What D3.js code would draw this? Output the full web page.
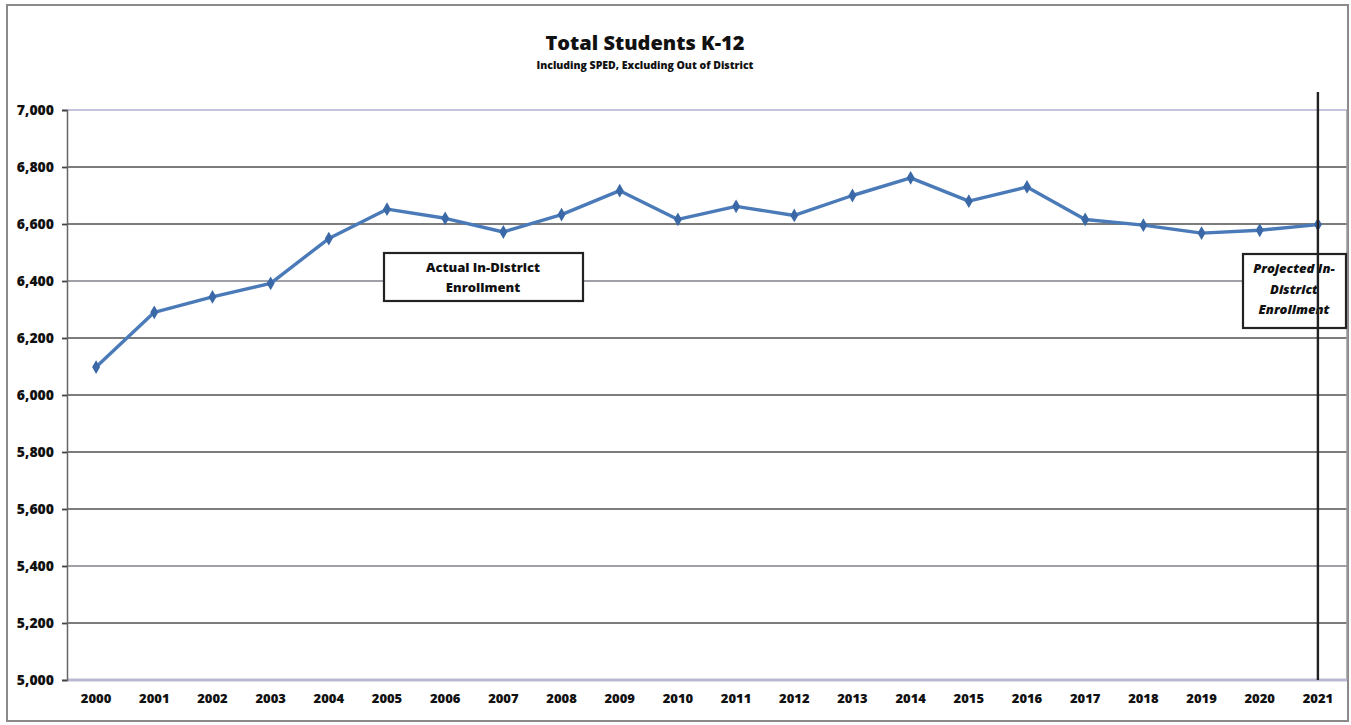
<!DOCTYPE html>
<html>
<head>
<meta charset="utf-8">
<script src="https://cdn.jsdelivr.net/npm/d3@7"></script>
<style>
  body { margin: 0; background: #fff; }
  text { font-family: "Open Sans", "DejaVu Sans", sans-serif; font-weight: 800; fill: #111; }
</style>
</head>
<body>
<div id="chart"></div>
<script>
// values
var years = ["2000","2001","2002","2003","2004","2005","2006","2007","2008","2009","2010",
             "2011","2012","2013","2014","2015","2016","2017","2018","2019","2020","2021"];
var students = [6098, 6290, 6344, 6392, 6549, 6652, 6620, 6572, 6633, 6717, 6616,
                6662, 6630, 6700, 6762, 6680, 6730, 6616, 6596, 6568, 6578, 6598];
var yTicks = [5000, 5200, 5400, 5600, 5800, 6000, 6200, 6400, 6600, 6800, 7000];
var titleText = "Total Students K-12";
var subtitleText = "Including SPED, Excluding Out of District";
var actualLabel = ["Actual In-District", "Enrollment"];
var projectedLabel = ["Projected In-", "District", "Enrollment"];
var projectedYear = "2021";

var svgWidth = 1351, svgHeight = 725;
var plotLeft = 67, plotRight = 1347, plotTop = 110, plotBottom = 680;

var svg = d3.select("#chart").append("svg")
    .attr("width", svgWidth)
    .attr("height", svgHeight);

// outer frame
svg.append("rect")
    .attr("x", 7).attr("y", 5)
    .attr("width", 1341).attr("height", 716)
    .attr("fill", "none")
    .attr("stroke", "#8a8a8a")
    .attr("stroke-width", 2);

var xScale = d3.scaleBand()
    .domain(years)
    .range([plotLeft, plotRight])
    .padding(0);

var yScale = d3.scaleLinear()
    .domain([5000, 7000])
    .range([plotBottom, plotTop]);

// gridlines
svg.append("g").selectAll("line")
    .data(yTicks.filter(function(d){ return d > 5000; }))
    .enter().append("line")
    .attr("x1", plotLeft).attr("x2", plotRight)
    .attr("y1", function(d){ return yScale(d); })
    .attr("y2", function(d){ return yScale(d); })
    .attr("stroke", function(d){ return d === 7000 ? "#c4c4dc" : (d === 6400 || d === 5400 ? "#a0a0a8" : "#7c7c7c"); })
    .attr("stroke-width", 1.8);

// plot right edge
svg.append("line")
    .attr("x1", plotRight).attr("x2", plotRight)
    .attr("y1", plotTop).attr("y2", plotBottom)
    .attr("stroke", "#9a9a9a")
    .attr("stroke-width", 1.5);

// baseline
svg.append("line")
    .attr("x1", plotLeft).attr("x2", plotRight)
    .attr("y1", yScale(5000)).attr("y2", yScale(5000))
    .attr("stroke", "#b9b9d3")
    .attr("stroke-width", 3);

// y axis
var yAxis = d3.axisLeft(yScale)
    .tickValues(yTicks)
    .tickFormat(d3.format(","))
    .tickSize(5)
    .tickPadding(8);

var yG = svg.append("g")
    .attr("transform", "translate(" + plotLeft + ",0)")
    .call(yAxis);
yG.select(".domain").attr("stroke", "#666").attr("stroke-width", 1.5);
yG.selectAll(".tick line").attr("stroke", "#444").attr("stroke-width", 1.8);
yG.selectAll("text").style("font-size", "14px").attr("fill", "#111");

// x axis
var xAxis = d3.axisBottom(xScale).tickSize(0).tickPadding(14);
var xG = svg.append("g")
    .attr("transform", "translate(0," + plotBottom + ")")
    .call(xAxis);
xG.select(".domain").remove();
xG.selectAll("text").style("font-size", "13px").attr("fill", "#111");

// title
svg.append("text")
    .attr("x", 645).attr("y", 50)
    .attr("text-anchor", "middle")
    .style("font-size", "20px")
    .text(titleText);
svg.append("text")
    .attr("x", 645).attr("y", 69)
    .attr("text-anchor", "middle")
    .style("font-size", "10.5px")
    .text(subtitleText);

// data line
var line = d3.line()
    .x(function(d, i){ return xScale(years[i]) + xScale.bandwidth() / 2; })
    .y(function(d){ return yScale(d); });

svg.append("path")
    .datum(students)
    .attr("d", line)
    .attr("fill", "none")
    .attr("stroke", "#4a7ab8")
    .attr("stroke-width", 3.4)
    .attr("stroke-linejoin", "round");

svg.append("g").selectAll("path")
    .data(students).enter().append("path")
    .attr("d", d3.symbol().type(d3.symbolDiamond).size(55))
    .attr("transform", function(d, i){
        return "translate(" + (xScale(years[i]) + xScale.bandwidth() / 2) + "," + yScale(d) + ")";
    })
    .attr("fill", "#3b68a6");

// actual enrollment label
svg.append("rect")
    .attr("x", 384).attr("y", 253)
    .attr("width", 199).attr("height", 48)
    .attr("fill", "#fff")
    .attr("stroke", "#222")
    .attr("stroke-width", 2.2);
svg.append("g").selectAll("text")
    .data(actualLabel).enter().append("text")
    .attr("x", 483)
    .attr("y", function(d, i){ return 272 + i * 20; })
    .attr("text-anchor", "middle")
    .style("font-size", "13px")
    .text(function(d){ return d; });

// projected enrollment label
svg.append("rect")
    .attr("x", 1243).attr("y", 254)
    .attr("width", 103).attr("height", 74)
    .attr("fill", "#fff")
    .attr("stroke", "#222")
    .attr("stroke-width", 2.2);
svg.append("g").selectAll("text")
    .data(projectedLabel).enter().append("text")
    .attr("x", 1294)
    .attr("y", function(d, i){ return 273 + i * 20.5; })
    .attr("text-anchor", "middle")
    .style("font-size", "13px")
    .style("font-style", "italic")
    .text(function(d){ return d; });

// projection divider
var px = xScale(projectedYear) + xScale.bandwidth() / 2;
svg.append("line")
    .attr("x1", px).attr("x2", px)
    .attr("y1", 92).attr("y2", plotBottom)
    .attr("stroke", "#222")
    .attr("stroke-width", 2.4);
</script>
</body>
</html>
